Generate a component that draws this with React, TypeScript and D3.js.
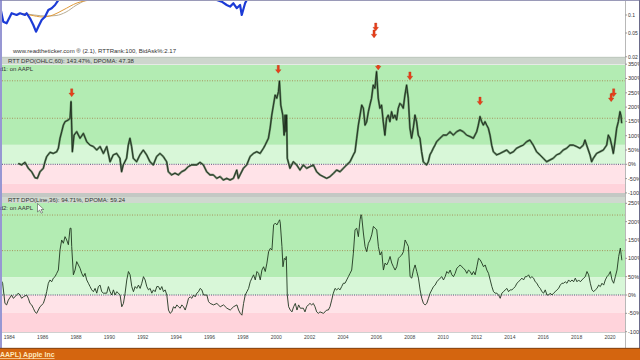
import React from "react";
import * as d3 from "d3";

// ---------- time axis ----------
const yearLabels = [1984, 1986, 1988, 1990, 1992, 1994, 1996, 1998, 2000, 2002, 2004, 2006, 2008, 2010, 2012, 2014, 2016, 2018, 2020];

// ---------- price panel (log scale, mostly clipped) ----------
const priceDates = [1983.40, 1983.64, 1983.84, 1984.14, 1984.44, 1984.64, 1984.94, 1985.04, 1985.24, 1985.44, 1985.60, 1985.74, 1985.94, 1986.14, 1986.34, 1986.54, 1986.74, 1986.94, 1987.16, 1987.3,
  1996.3, 1996.43, 1996.73, 1997.03, 1997.23, 1997.43, 1997.63, 1997.83, 1997.93, 1998.13, 1998.23, 1998.4];
const priceValues: (number | null)[] = [0.16, 0.077, 0.0726, 0.107, 0.1, 0.107, 0.1, 0.107, 0.088, 0.068, 0.0526, 0.0637, 0.0825, 0.0937, 0.121, 0.13, 0.147, 0.178, 0.22, null,
  0.2, 0.178, 0.167, 0.147, 0.138, 0.157, 0.13, 0.147, 0.1, 0.157, 0.178, 0.2];
const ma1Dates = [1984.64, 1985.24, 1986.02, 1986.62, 1987.22, 1988.06, 1988.84];
const ma1Values = [0.107, 0.1, 0.0926, 0.1, 0.121, 0.159, 0.178];
const ma2Dates = [1984.9, 1985.5, 1986.2, 1986.8, 1987.4, 1988.0, 1988.6];
const ma2Values = [0.105, 0.1, 0.096, 0.098, 0.112, 0.145, 0.178];
const priceTicks = [0.1, 0.05, 0.02];
const priceTickLabels = ["0.1", "0.05", "0.02"];
const priceArrowDates = [2005.86, 2005.96];
const priceArrowValues = [0.0413, 0.054];

// ---------- indicator 1: RTT DPO(OHLC,60) ----------
const dpo1Dates = [1984.54, 1984.74, 1984.94, 1985.14, 1985.34, 1985.54, 1985.68, 1985.84, 1986.04, 1986.14, 1986.24, 1986.44, 1986.64, 1986.84, 1986.94, 1987.04, 1987.14, 1987.24, 1987.34, 1987.54, 1987.64, 1987.70, 1987.78, 1987.88, 1988.04, 1988.24, 1988.44, 1988.64, 1988.84, 1989.04, 1989.24, 1989.44, 1989.64, 1989.84, 1990.04, 1990.23, 1990.43, 1990.63, 1990.73, 1990.83, 1991.03, 1991.13, 1991.23, 1991.33, 1991.43, 1991.63, 1991.83, 1992.03, 1992.23, 1992.43, 1992.63, 1992.83, 1993.03, 1993.23, 1993.43, 1993.53, 1993.73, 1993.93, 1994.13, 1994.33, 1994.53, 1994.73, 1994.93, 1995.23, 1995.43, 1995.63, 1995.83, 1996.03, 1996.23, 1996.43, 1996.63, 1996.83, 1997.03, 1997.23, 1997.43, 1997.63, 1997.73, 1997.83, 1998.03, 1998.23, 1998.43, 1998.63, 1998.83, 1999.03, 1999.23, 1999.33, 1999.43, 1999.53, 1999.63, 1999.73, 1999.83, 1999.93, 2000.03, 2000.13, 2000.19, 2000.27, 2000.39, 2000.47, 2000.53, 2000.58, 2000.62, 2000.66, 2000.82, 2001.02, 2001.22, 2001.42, 2001.62, 2001.82, 2002.02, 2002.22, 2002.42, 2002.62,
  2002.82, 2003.02, 2003.22, 2003.42, 2003.62, 2003.82, 2004.02, 2004.22, 2004.42, 2004.62, 2004.72, 2004.82, 2004.92, 2005.02, 2005.12, 2005.22, 2005.32, 2005.42, 2005.52, 2005.61, 2005.71, 2005.81, 2005.91, 2006.01, 2006.11, 2006.21, 2006.31, 2006.41, 2006.51, 2006.61, 2006.71, 2006.81, 2006.91, 2007.01, 2007.11, 2007.21, 2007.31, 2007.41, 2007.51, 2007.61, 2007.71, 2007.81, 2007.91, 2008.01, 2008.11, 2008.21, 2008.31, 2008.41, 2008.51, 2008.61, 2008.71, 2008.81, 2008.91, 2009.01, 2009.11, 2009.21, 2009.31, 2009.41, 2009.51, 2009.61, 2009.81, 2010.01, 2010.21, 2010.41, 2010.61, 2010.81, 2011.01, 2011.21, 2011.41, 2011.61, 2011.81, 2012.01, 2012.11, 2012.21, 2012.31, 2012.41, 2012.51, 2012.61, 2012.71, 2012.81, 2012.91, 2013.01, 2013.21, 2013.41, 2013.61, 2013.81, 2014.01, 2014.21, 2014.40, 2014.60, 2014.80, 2015.00, 2015.20, 2015.40, 2015.60, 2015.80, 2016.00, 2016.20, 2016.40, 2016.60, 2016.80, 2017.00, 2017.20, 2017.40, 2017.60, 2017.80, 2018.00, 2018.20, 2018.40, 2018.50, 2018.60, 2018.80, 2018.90, 2019.00, 2019.20, 2019.40, 2019.60, 2019.80, 2019.90, 2020.00, 2020.10, 2020.20, 2020.30, 2020.40, 2020.50, 2020.60, 2020.66, 2020.70];
const dpo1Values = [3, -2, 7, -14, -26, -47, -49, -26, -14, 9, 27, 42, 38, 44, 56, 91, 114, 137, 149, 155, 161, 219, 44, 102, 114, 91, 108, 79, 67, 62, 50, 62, 38, 62, 9, 33, 38, 21, -26, -2, 21, 67, 91, 62, 21, 9, 33, 50, 33, 9, -2, 27, 38, 27, 9, -26, -37, -31, -37, -26, -20, -8, -2, -2, 7, -2, -26, -37, -37, -49, -43, -55, -49, -55, -49, -20, -49, -37, -14, -2, 27, 38, 44, 38, 56, 67, 79, 91, 126, 172, 207, 242, 231, 254, 291, 207, 172, 102, 172, 114, 172, 21, -14, 9, -2, -20, -2, -14, -8, -2, -26, -37,
  -43, -49, -43, -32, -20, -26, -14, -2, 9, 33, 44, 91, 137, 172, 207, 196, 137, 149, 184, 207, 231, 277, 266, 324, 231, 196, 207, 149, 102, 161, 172, 149, 184, 161, 172, 155, 196, 213, 207, 196, 242, 277, 231, 126, 91, 126, 172, 149, 102, 91, 44, 9, 3, -2, 9, 33, 44, 56, 67, 79, 91, 102, 102, 114, 102, 114, 120, 114, 102, 97, 91, 114, 137, 167, 149, 137, 149, 137, 126, 102, 67, 44, 33, 38, 44, 50, 38, 44, 56, 62, 67, 79, 85, 67, 44, 33, 21, 9, 15, 21, 33, 38, 50, 56, 67, 67, 62, 56, 67, 85, 67, 33, 9, 21, 38, 44, 50, 67, 102, 91, 67, 38, 79, 126, 149, 184, 170, 143.47];
const dpo1Ticks = [350, 300, 250, 200, 150, 100, 50, 0, -50, -100];
const dpo1Levels = [292, 161];
const dpo1Band = 68;
const dpo1ArrowDates = [1987.74, 2000.12, 2006.11, 2008.01, 2012.21, 2020.07, 2020.22];
const dpo1ArrowValues = [236, 318, 330, 295, 207, 219, 236];

// ---------- indicator 2: RTT DPO(Line,36) ----------
const dpo2Dates = [1983.44, 1983.50, 1983.60, 1983.74, 1983.84, 1983.94, 1984.14, 1984.24, 1984.34, 1984.54, 1984.64, 1984.74, 1984.84, 1985.04, 1985.14, 1985.24, 1985.34, 1985.44, 1985.54, 1985.64, 1985.74, 1985.84, 1986.04, 1986.14, 1986.24, 1986.34, 1986.44, 1986.54, 1986.64, 1986.74, 1986.84, 1986.94, 1987.04, 1987.14, 1987.24, 1987.34, 1987.44, 1987.54, 1987.64, 1987.70, 1987.74, 1987.84, 1987.94, 1988.04, 1988.14, 1988.24, 1988.34, 1988.44, 1988.54, 1988.64, 1988.74, 1988.84, 1988.94, 1989.04, 1989.14, 1989.24, 1989.34, 1989.44, 1989.54, 1989.64, 1989.84, 1989.94, 1990.04, 1990.14, 1990.24, 1990.34, 1990.44, 1990.54, 1990.64, 1990.74, 1990.84, 1990.94, 1991.04, 1991.14, 1991.24, 1991.34, 1991.44, 1991.54, 1991.64, 1991.74, 1991.84, 1991.94, 1992.04, 1992.14, 1992.24, 1992.34, 1992.44, 1992.54, 1992.64, 1992.74, 1992.84, 1992.94, 1993.04, 1993.14, 1993.24, 1993.34, 1993.44, 1993.54, 1993.64, 1993.74, 1993.84, 1993.94, 1994.04, 1994.14, 1994.24, 1994.34, 1994.44, 1994.54, 1994.64, 1994.74, 1994.84, 1994.94, 1995.04, 1995.14, 1995.24, 1995.34, 1995.44, 1995.54, 1995.64, 1995.84, 1995.94, 1996.04, 1996.24, 1996.44, 1996.64, 1996.84, 1997.04, 1997.24, 1997.44, 1997.64, 1997.74, 1997.84, 1997.94, 1998.04, 1998.14, 1998.24, 1998.34, 1998.44, 1998.54, 1998.64, 1998.74, 1998.84, 1998.94, 1999.04, 1999.14, 1999.24, 1999.34, 1999.44, 1999.54, 1999.64, 1999.74, 1999.84, 1999.94, 2000.04, 2000.14, 2000.20, 2000.24, 2000.34, 2000.40, 2000.48, 2000.56, 2000.60, 2000.66, 2000.74, 2000.84, 2000.94, 2001.04, 2001.14, 2001.24, 2001.34, 2001.44,
  2001.62, 2001.72, 2001.82, 2001.92, 2002.02, 2002.12, 2002.22, 2002.32, 2002.42, 2002.52, 2002.62, 2002.82, 2002.92, 2003.02, 2003.12, 2003.22, 2003.32, 2003.42, 2003.52, 2003.62, 2003.72, 2003.82, 2003.92, 2004.02, 2004.12, 2004.22, 2004.32, 2004.42, 2004.52, 2004.62, 2004.72, 2004.82, 2004.92, 2005.02, 2005.08, 2005.12, 2005.22, 2005.32, 2005.42, 2005.52, 2005.62, 2005.72, 2005.82, 2005.92, 2006.02, 2006.12, 2006.22, 2006.32, 2006.42, 2006.52, 2006.62, 2006.72, 2006.82, 2006.92, 2007.02, 2007.12, 2007.22, 2007.32, 2007.42, 2007.52, 2007.62, 2007.72, 2007.82, 2007.92, 2008.02, 2008.12, 2008.22, 2008.32, 2008.42, 2008.52, 2008.62, 2008.72, 2008.82, 2008.92, 2009.02, 2009.12, 2009.22, 2009.32, 2009.42, 2009.52, 2009.62, 2009.72, 2009.82, 2009.92, 2010.02, 2010.12, 2010.22, 2010.32, 2010.42, 2010.52, 2010.62, 2010.72, 2010.82, 2010.92, 2011.02, 2011.12, 2011.22, 2011.32, 2011.42, 2011.52, 2011.62, 2011.72, 2011.82, 2011.92, 2012.02, 2012.12, 2012.22, 2012.32, 2012.42, 2012.52, 2012.62, 2012.72, 2012.82, 2012.92, 2013.02, 2013.12, 2013.22, 2013.32, 2013.42, 2013.52, 2013.62, 2013.72, 2013.82, 2013.92, 2014.02, 2014.12, 2014.22, 2014.32, 2014.42, 2014.52, 2014.62, 2014.72, 2014.82, 2014.92, 2015.02, 2015.12, 2015.22, 2015.32, 2015.42, 2015.52, 2015.62, 2015.72, 2015.82, 2015.92, 2016.02, 2016.12, 2016.22, 2016.32, 2016.42, 2016.52, 2016.62, 2016.72, 2016.82, 2016.92, 2017.02, 2017.12, 2017.22, 2017.32, 2017.42, 2017.52, 2017.62, 2017.72, 2017.82, 2017.92, 2018.02, 2018.12, 2018.22, 2018.32, 2018.42, 2018.52, 2018.62, 2018.72, 2018.82, 2018.92, 2019.02, 2019.12, 2019.22, 2019.32, 2019.42, 2019.52, 2019.62, 2019.72, 2019.82, 2019.92, 2020.02, 2020.12, 2020.22, 2020.32, 2020.42, 2020.52, 2020.62, 2020.67, 2020.71];
const dpo2Values = [77, 41, 32, -23, -27, -14, 0, -9, -5, 5, 0, -9, -5, 0, -9, -23, -27, -36, -46, -50, -41, -32, -23, -9, 9, 32, 41, 36, 46, 50, 59, 68, 123, 150, 141, 159, 150, 137, 182, 182, 132, 55, 68, 91, 82, 73, 59, 50, 59, 41, 32, 23, 14, 9, 18, 5, 23, 27, 9, 5, 5, 23, 9, 0, 14, 0, 9, 5, 0, -32, -23, 5, 41, 64, 55, 23, 9, 23, 18, 27, 18, 32, 50, 41, 23, 14, 18, 5, 14, 9, 23, 23, 14, 23, 9, 14, 0, -41, -50, -46, -32, -36, -27, -32, -36, -27, -32, -41, -27, -9, -5, -9, 0, -5, 5, 9, 18, 14, 0, 0, -18, -23, -27, -23, -32, -27, -36, -41, -32, -27, -41, -50, -55, -23, 0, 9, 18, 36, 46, 55, 41, 64, 59, 41, 68, 77, 64, 87, 118, 127, 123, 191, 196, 191, 200, 205, 196, 132, 77, 100, 96, 105, 0, -32, -41, -46, -32, -23, -41, -27, -36,
  -36, -46, -32, -27, -23, -27, -23, -32, -46, -50, -46, -50, -46, -41, -41, -32, -14, 5, 18, 14, 18, 14, 23, 32, 32, 41, 50, 59, 68, 114, 178, 182, 159, 205, 219, 214, 169, 132, 118, 141, 150, 164, 187, 182, 178, 132, 109, 118, 68, 87, 82, 91, 105, 87, 77, 68, 77, 100, 105, 109, 118, 150, 141, 132, 50, 46, 68, 82, 64, 46, 14, -9, -23, -27, -23, -9, 5, 14, 23, 27, 36, 41, 46, 50, 41, 50, 64, 59, 68, 55, 50, 59, 73, 77, 82, 77, 73, 68, 59, 68, 64, 55, 64, 55, 77, 100, 96, 87, 77, 82, 68, 59, 41, 23, 9, 5, 5, 0, -9, 5, 9, 14, 18, 9, 14, 14, 18, 23, 32, 36, 41, 46, 41, 50, 50, 55, 46, 50, 46, 36, 32, 23, 18, 9, 5, 14, 0, 0, 5, 0, 5, 9, 14, 18, 27, 32, 32, 36, 32, 41, 36, 41, 36, 46, 36, 41, 36, 41, 46, 50, 64, 55, 32, 14, 9, 14, 18, 27, 23, 32, 27, 41, 50, 55, 64, 41, 32, 50, 68, 105, 128, 110, 94.71];
const dpo2Ticks = [250, 200, 150, 100, 50, 0, -50, -100];
const dpo2Levels = [218, 121];
const dpo2Band = 48;

const FONT = "'Liberation Sans', Arial, Helvetica, sans-serif";
const TXT = "#333333";

function arrowPath(tx: number, ty: number) {
  return `M${tx - 1.1},${ty - 8} h2.2 v4.3 h1.7 L${tx},${ty} L${tx - 2.8},${ty - 3.7} h1.7 Z`;
}

export default function App() {
  const L = 2, R = 625;
  const x = d3.scaleLinear().domain([1984, 2020]).range([9.3, 610]);
  const yP = d3.scaleLog().domain([0.1, 0.05]).range([15, 33]);
  const y1 = d3.scaleLinear().domain([0, 350]).range([164.3, 64.2]);
  const y2 = d3.scaleLinear().domain([0, 250]).range([295, 203.3]);

  const P1_TOP = 65, P1_BOT = 193, P2_TOP = 203, P2_BOT = 332;

  const priceLine = d3.line<number>()
    .defined((_, i) => priceValues[i] != null)
    .x((_, i) => x(priceDates[i]))
    .y((_, i) => yP(priceValues[i] as number));
  const ma1Line = d3.line<number>().x((_, i) => x(ma1Dates[i])).y((d) => yP(d)).curve(d3.curveMonotoneX);
  const ma2Line = d3.line<number>().x((_, i) => x(ma2Dates[i])).y((d) => yP(d)).curve(d3.curveMonotoneX);
  const l1 = d3.line<number>().x((_, i) => x(dpo1Dates[i])).y((d) => y1(d));
  const l2 = d3.line<number>().x((_, i) => x(dpo2Dates[i])).y((d) => y2(d));

  const darkGreen = "#b3ecb3";
  const lightGreen = "#d8f7d8";
  const lightPink = "#ffe3e8";
  const pink = "#ffd3db";

  return (
    <svg width={640} height={360} style={{ position: "fixed", left: 0, top: 0, display: "block" }} fontFamily={FONT}>
      <defs>
        <clipPath id="cTop"><rect x={L} y={0} width={R - L} height={57} /></clipPath>
        <clipPath id="c1"><rect x={L} y={P1_TOP} width={R - L} height={P1_BOT - P1_TOP} /></clipPath>
        <clipPath id="c2"><rect x={L} y={P2_TOP} width={R - L} height={P2_BOT - P2_TOP} /></clipPath>
      </defs>
      <rect x={0} y={0} width={640} height={360} fill="#ffffff" />

      {/* ---------- price panel ---------- */}
      <g clipPath="url(#cTop)">
        <path d={ma2Line(ma2Values) || ""} fill="none" stroke="#b8ad95" strokeWidth={1} />
        <path d={ma1Line(ma1Values) || ""} fill="none" stroke="#e09a3a" strokeWidth={1} />
        <path d={priceLine(priceValues as number[]) || ""} fill="none" stroke="#1c3bd6" strokeWidth={2.2} strokeLinejoin="round" />
        {priceArrowDates.map((d, i) => (
          <path key={i} d={arrowPath(x(d), yP(priceArrowValues[i]))} fill="#e8401a" stroke="#b02a10" strokeWidth={0.3} />
        ))}
      </g>
      <text x={13} y={53} fontSize={6} fill={TXT}>www.readtheticker.com ® (2.1), RTTRank:100, BidAsk%:2.17</text>
      {priceTicks.map((t, i) => (
        <g key={t}>
          <line x1={R} x2={R + 2} y1={yP(t)} y2={yP(t)} stroke="#555" strokeWidth={0.6} />
          <text x={R + 3} y={yP(t)} dy="0.35em" fontSize={5} fill={TXT}>{priceTickLabels[i]}</text>
        </g>
      ))}

      {/* ---------- panel 1 ---------- */}
      <rect x={L} y={P1_TOP} width={R - L} height={y1(dpo1Band) - P1_TOP} fill={darkGreen} />
      <rect x={L} y={y1(dpo1Band)} width={R - L} height={y1(0) - y1(dpo1Band)} fill={lightGreen} />
      <rect x={L} y={y1(0)} width={R - L} height={y1(-dpo1Band) - y1(0)} fill={lightPink} />
      <rect x={L} y={y1(-dpo1Band)} width={R - L} height={P1_BOT - y1(-dpo1Band)} fill={pink} />
      {dpo1Levels.map((lv) => (
        <line key={lv} x1={L} x2={R} y1={y1(lv)} y2={y1(lv)} stroke="#a0703a" strokeWidth={0.7} strokeDasharray="1,1.5" />
      ))}
      <line x1={L} x2={R} y1={y1(0)} y2={y1(0)} stroke="#2a2a5a" strokeWidth={0.8} strokeDasharray="1,1.2" />
      <g clipPath="url(#c1)">
        <path d={l1(dpo1Values) || ""} fill="none" stroke="#4a6e4a" strokeWidth={2.1} strokeLinejoin="round" opacity={0.8} />
        <path d={l1(dpo1Values) || ""} fill="none" stroke="#151f15" strokeWidth={0.8} strokeLinejoin="miter" />
        {dpo1ArrowDates.map((d, i) => (
          <path key={i} d={arrowPath(x(d), y1(dpo1ArrowValues[i]))} fill="#e8401a" stroke="#b02a10" strokeWidth={0.3} />
        ))}
      </g>
      <rect x={L} y={57} width={R - L} height={7.5} fill="#cdd6cd" />
      <line x1={L} x2={R} y1={57.3} y2={57.3} stroke="#b9c4b9" strokeWidth={0.8} />
      <text x={8} y={63.3} fontSize={6} fill={TXT}>RTT DPO(OHLC,60): 143.47%, DPOMA: 47.38</text>
      <text x={-5} y={71} fontSize={6} fill={TXT}>ind1: on AAPL</text>
      {dpo1Ticks.map((t) => (
        <g key={t}>
          <line x1={R} x2={R + 2} y1={y1(t)} y2={y1(t)} stroke="#555" strokeWidth={0.6} />
          <text x={R + 3} y={y1(t)} dy="0.35em" fontSize={5.5} fill={TXT}>{t}%</text>
        </g>
      ))}

      {/* ---------- panel 2 ---------- */}
      <rect x={L} y={P2_TOP} width={R - L} height={y2(dpo2Band) - P2_TOP} fill={darkGreen} />
      <rect x={L} y={y2(dpo2Band)} width={R - L} height={y2(0) - y2(dpo2Band)} fill={lightGreen} />
      <rect x={L} y={y2(0)} width={R - L} height={y2(-dpo2Band) - y2(0)} fill={lightPink} />
      <rect x={L} y={y2(-dpo2Band)} width={R - L} height={P2_BOT - y2(-dpo2Band)} fill={pink} />
      {dpo2Levels.map((lv) => (
        <line key={lv} x1={L} x2={R} y1={y2(lv)} y2={y2(lv)} stroke="#a0703a" strokeWidth={0.7} strokeDasharray="1,1.5" />
      ))}
      <line x1={L} x2={R} y1={y2(0)} y2={y2(0)} stroke="#2a2a5a" strokeWidth={0.8} strokeDasharray="1,1.2" />
      <g clipPath="url(#c2)">
        <path d={l2(dpo2Values) || ""} fill="none" stroke="#1f351f" strokeWidth={0.9} strokeLinejoin="round" />
      </g>
      <rect x={L} y={193} width={R - L} height={4} fill="#c4c8c4" />
      <rect x={L} y={197} width={R - L} height={6} fill="#cfd8cf" />
      <text x={8} y={201.5} fontSize={6} fill={TXT}>RTT DPO(Line,36): 94.71%, DPOMA: 59.24</text>
      <text x={-5} y={210} fontSize={6} fill={TXT}>ind2: on AAPL</text>
      <path d="M37.5,203.5 L37.5,212 L39.6,210 L41.2,213.2 L42.6,212.5 L41,209.5 L43.8,209.5 Z" fill="#ffffff" stroke="#333" strokeWidth={0.5} />
      {dpo2Ticks.map((t) => (
        <g key={t}>
          <line x1={R} x2={R + 2} y1={y2(t)} y2={y2(t)} stroke="#555" strokeWidth={0.6} />
          <text x={R + 3} y={y2(t)} dy="0.35em" fontSize={5.5} fill={TXT}>{t}%</text>
        </g>
      ))}

      {/* ---------- x axis ---------- */}
      <line x1={L} x2={R} y1={P2_BOT + 0.5} y2={P2_BOT + 0.5} stroke="#b0b0b0" strokeWidth={0.6} />
      {yearLabels.map((yr) => (
        <text key={yr} x={x(yr)} y={339} textAnchor="middle" fontSize={5} fill="#444">{yr}</text>
      ))}

      {/* frame */}
      <line x1={R + 0.5} x2={R + 0.5} y1={0} y2={348} stroke="#9a9a9a" strokeWidth={0.7} />
      <line x1={0} x2={640} y1={0.5} y2={0.5} stroke="#9a9ab8" strokeWidth={1} />
      <line x1={1} x2={1} y1={0} y2={348} stroke="#7474c4" strokeWidth={1.5} />
      <line x1={639.5} x2={639.5} y1={0} y2={348} stroke="#6a6a8a" strokeWidth={1} />

      {/* bottom bar */}
      <rect x={0} y={348} width={640} height={12} fill="#d4650f" />
      <line x1={0} x2={640} y1={348.3} y2={348.3} stroke="#6a3a18" strokeWidth={0.8} />
      <text x={0} y={357} fontSize={7} fontWeight="bold" fill="#fde7bd" textDecoration="underline">AAPL) Apple Inc</text>
    </svg>
  );
}
